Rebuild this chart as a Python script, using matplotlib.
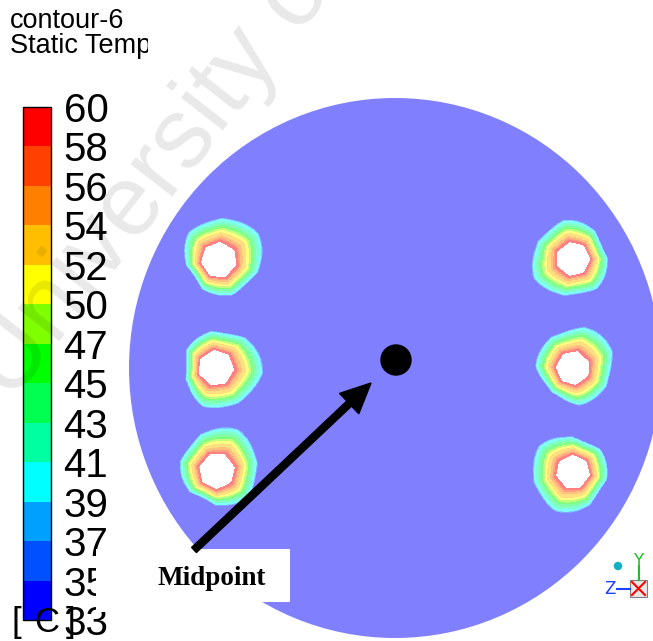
import numpy as np
import matplotlib
matplotlib.use("Agg")
import matplotlib.pyplot as plt
from matplotlib.colors import ListedColormap, BoundaryNorm, to_rgb
from matplotlib.cm import ScalarMappable
from matplotlib.patches import Ellipse, Circle, Rectangle
from matplotlib.transforms import Bbox, TransformedBbox

W, H = 653, 641

# legend levels of static temperature [C]
temp_levels = [33, 35, 37, 39, 41, 43, 45, 47, 50, 52, 54, 56, 58, 60]
band_colors = ["#0000FF", "#0050FF", "#00A0FF", "#00FFFF", "#00FFA0", "#00FF50",
               "#00FF00", "#80FF00", "#FFFF00", "#FFBF00", "#FF8000", "#FF4000",
               "#FF0000"]

# heated holes in the plate (pixel coordinates)
hole_x = [219, 573, 216, 573, 217, 573]
hole_y = [260, 259, 368, 368, 471, 472]
hole_r = [18, 17, 18, 17, 18, 17]
hole_rot = [0.3, 0.9, 0.1, 0.5, 0.7, 0.2]
plume_amp = [0.30, 0.15, 0.30, 0.20, 0.25, 0.20]
plume_dir = [-0.8, 3.0, 0.2, -0.8, -0.9, 2.8]

# temperature falloff away from the hole wall
wall_dist = [0, 2, 4, 10, 13, 16, 20, 21.5]
wall_temp = [60, 58, 55, 51, 46, 43, 39.3, 34]

plate_c = (395, 368)
plate_w, plate_h = 532, 540

# build temperature field
X, Y = np.meshgrid(np.arange(0, W + 1), np.arange(0, H + 1))
T = np.full(X.shape, 34.0)
holes = np.zeros(X.shape, dtype=bool)
sector = 2 * np.pi / 7
for cx, cy, r, rot, amp, ang in zip(hole_x, hole_y, hole_r, hole_rot, plume_amp, plume_dir):
    dx, dy = X - cx, Y - cy
    d = np.hypot(dx, dy)
    th = np.arctan2(dy, dx)
    a = np.mod(th - rot, sector) - sector / 2
    rh = r * np.cos(sector / 2) / np.cos(a)
    s = (d - rh) / (1 + amp * np.cos(th - ang) + 0.1 * np.cos(3 * th + 5 * rot))
    T = np.maximum(T, np.interp(s, wall_dist, wall_temp))
    holes |= d < rh
T = np.ma.masked_where(holes, T)

pastel = [tuple(0.5 + 0.5 * c for c in to_rgb(col)) for col in band_colors]

fig = plt.figure(figsize=(W / 100, H / 100), dpi=100)
ax = fig.add_axes([0, 0, 1, 1])
ax.set_xlim(0, W)
ax.set_ylim(H, 0)
ax.axis("off")

plate = Ellipse(plate_c, plate_w, plate_h, transform=ax.transData)
cs = ax.contourf(X, Y, T, levels=temp_levels, colors=pastel)
cs.set_clip_path(plate)

# colour legend
cax = fig.add_axes([23 / W, (H - 620) / H, 28 / W, 513 / H])
norm = BoundaryNorm(temp_levels, len(band_colors))
cb = fig.colorbar(ScalarMappable(norm=norm, cmap=ListedColormap(band_colors)),
                  cax=cax, spacing="uniform", ticks=temp_levels)
cb.outline.set_linewidth(1.0)
cax.tick_params(length=0, pad=9, labelsize=29)
cax.set_yticklabels([str(v) for v in temp_levels], family="Liberation Sans")

# annotations on top
ov = fig.add_axes([0, 0, 1, 1], zorder=5)
ov.set_xlim(0, W)
ov.set_ylim(H, 0)
ov.axis("off")
ov.patch.set_visible(False)

ov.text(10, 28, "contour-6", fontsize=19.5, family="Liberation Sans", va="baseline")
t2 = ov.text(10, 53, "Static Temperature", fontsize=19.5, family="Liberation Sans",
             va="baseline")
t2.set_clip_box(TransformedBbox(Bbox([[0, 0], [148, H]]), ov.transData))
t2.set_clip_on(True)
for x, ch in zip([11, 34, 66], ["[", "C", "]"]):
    ov.text(x, 632, ch, fontsize=25, family="Liberation Sans", va="baseline")

ov.add_patch(Rectangle((96, 549), 194, 53, facecolor="white", edgecolor="none"))
ov.add_patch(Rectangle((96, 549), 34, 63, facecolor="white", edgecolor="none"))
ov.text(212, 585, "Midpoint", fontsize=19.5, family="Liberation Serif",
        weight="bold", ha="center", va="baseline")
ov.arrow(194, 550, 177, -167, width=7, head_width=28, head_length=30,
         length_includes_head=True, color="black")
ov.add_patch(Circle((396, 360), 15, color="black"))

# watermark
ov.text(160, 170, "University of", fontsize=72, rotation=52, color="black",
        alpha=0.09, ha="center", va="center", family="Liberation Sans")

# view triad
ov.add_patch(Circle((618, 566), 3.5, color="#10B0C0"))
ov.add_patch(Rectangle((630, 580), 17, 17, facecolor="#E8E8E8", edgecolor="#808080", lw=0.8))
ov.plot([632, 645], [582, 595], color="red", lw=1.5)
ov.plot([632, 645], [595, 582], color="red", lw=1.5)
ov.plot([638.5, 638.5], [580, 566], color="#20C020", lw=1.5)
ov.text(638.5, 566, "Y", color="#20C020", fontsize=12, ha="center", va="baseline")
ov.plot([630, 617], [588.5, 588.5], color="#2040FF", lw=1.5)
ov.text(610, 589, "Z", color="#2040FF", fontsize=12, ha="center", va="center")

fig.savefig("out.png", dpi=100)
